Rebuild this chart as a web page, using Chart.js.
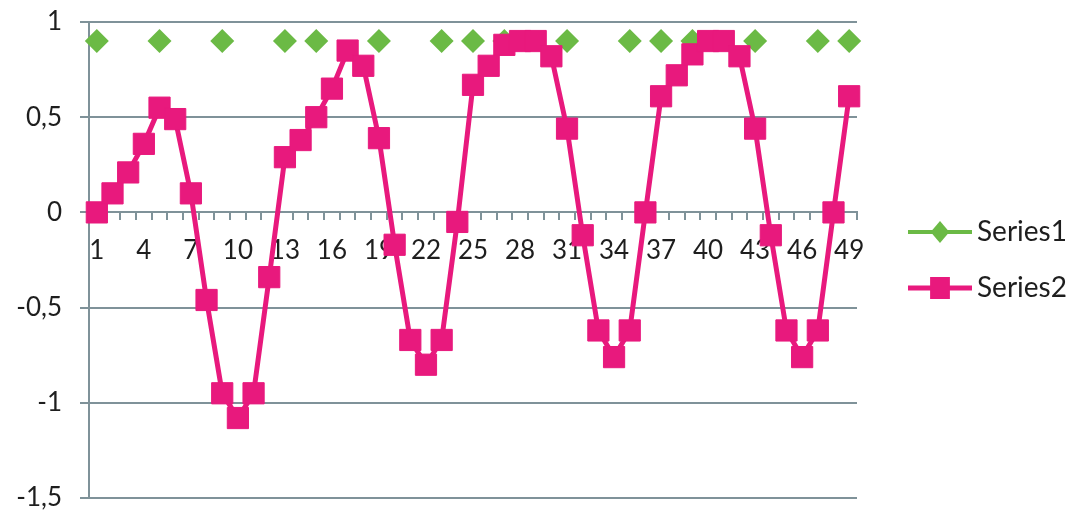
<!DOCTYPE html>
<html>
<head>
<meta charset="utf-8">
<script src="https://cdn.jsdelivr.net/npm/chart.js@4.4.1/dist/chart.umd.min.js"></script>
<style>
  html, body { margin: 0; padding: 0; background: #ffffff; }
  #wrap { width: 1073px; height: 517px; }
</style>
</head>
<body>
<div id="wrap"><canvas id="chart" width="1073" height="517"></canvas></div>
<script>
// Category axis: 1..49
const categories = [
  1, 2, 3, 4, 5, 6, 7, 8, 9, 10,
  11, 12, 13, 14, 15, 16, 17, 18, 19, 20,
  21, 22, 23, 24, 25, 26, 27, 28, 29, 30,
  31, 32, 33, 34, 35, 36, 37, 38, 39, 40,
  41, 42, 43, 44, 45, 46, 47, 48, 49
];

// Series1: flag markers (null where no marker)
const series1 = [
  0.9, null, null, null, 0.9, null, null, null, 0.9, null,
  null, null, 0.9, null, 0.9, null, null, null, 0.9, null,
  null, null, 0.9, null, 0.9, null, 0.9, null, null, null,
  0.9, null, null, null, 0.9, null, 0.9, null, 0.9, null,
  null, null, 0.9, null, null, null, 0.9, null, 0.9
];

// Series2: oscillating signal
const series2 = [
  0.00, 0.10, 0.21, 0.36, 0.55, 0.49, 0.10, -0.46, -0.95, -1.08,
  -0.95, -0.34, 0.29, 0.38, 0.50, 0.65, 0.85, 0.77, 0.39, -0.17,
  -0.67, -0.80, -0.67, -0.05, 0.67, 0.77, 0.88, 0.90, 0.90, 0.82,
  0.44, -0.12, -0.62, -0.76, -0.62, 0.00, 0.61, 0.72, 0.83, 0.90,
  0.90, 0.82, 0.44, -0.12, -0.62, -0.76, -0.62, 0.00, 0.61
];

// Value axis ticks
const yTicks = [-1.5, -1, -0.5, 0, 0.5, 1];

const GREEN = '#6BBA45';
const PINK = '#E8197D';
const AXIS = '#7F9299';
const TEXT = '#1E1E1E';
const FONT = 'Lato, "Open Sans", sans-serif';

function drawMarker(ctx, style, x, y, r, color) {
  ctx.fillStyle = color;
  ctx.beginPath();
  if (style === 'rectRot') {
    ctx.moveTo(x - r * 0.85, y);
    ctx.lineTo(x, y - r);
    ctx.lineTo(x + r * 0.85, y);
    ctx.lineTo(x, y + r);
    ctx.closePath();
  } else {
    ctx.rect(x - r * 0.9, y - r, r * 1.8, r * 2);
  }
  ctx.fill();
}

// Legend at the right: line sample with marker, then the series name
const sideLegend = {
  id: 'sideLegend',
  afterDraw(chart) {
    const ctx = chart.ctx;
    const area = chart.chartArea;
    const x0 = area.right + 51;
    const lineLen = 64;
    const midY = (area.top + area.bottom) / 2;
    const rowGap = 56;
    const sets = chart.data.datasets;
    ctx.save();
    sets.forEach((ds, i) => {
      const y = midY + (i - (sets.length - 1) / 2) * rowGap;
      ctx.strokeStyle = ds.borderColor;
      ctx.lineWidth = i === 0 ? 4 : 5;
      ctx.lineCap = 'butt';
      ctx.beginPath();
      ctx.moveTo(x0, y);
      ctx.lineTo(x0 + lineLen, y);
      ctx.stroke();
      drawMarker(ctx, ds.pointStyle, x0 + lineLen / 2, y, 11, ds.pointBackgroundColor);
      ctx.fillStyle = TEXT;
      ctx.font = '28px ' + FONT;
      ctx.textAlign = 'left';
      ctx.textBaseline = 'middle';
      ctx.fillText(ds.label, x0 + lineLen + 5, y);
    });
    ctx.restore();
  }
};

new Chart(document.getElementById('chart'), {
  type: 'line',
  data: {
    labels: categories,
    datasets: [
      {
        label: 'Series1',
        data: series1,
        showLine: false,
        borderColor: GREEN,
        backgroundColor: GREEN,
        pointStyle: 'rectRot',
        pointRadius: 12,
        pointBackgroundColor: GREEN,
        pointBorderColor: GREEN,
        pointBorderWidth: 0,
        order: 2
      },
      {
        label: 'Series2',
        data: series2,
        borderColor: PINK,
        backgroundColor: PINK,
        borderWidth: 5,
        tension: 0,
        pointStyle: 'rect',
        pointRadius: 15,
        pointBackgroundColor: PINK,
        pointBorderColor: PINK,
        pointBorderWidth: 1,
        order: 1
      }
    ]
  },
  options: {
    responsive: false,
    animation: false,
    devicePixelRatio: 1,
    layout: { padding: { left: 0, top: 22, right: 216, bottom: 19 } },
    plugins: {
      legend: { display: false },
      tooltip: { enabled: false }
    },
    scales: {
      x: {
        type: 'category',
        position: { y: 0 },
        offset: true,
        grid: {
          offset: true,
          drawOnChartArea: false,
          drawTicks: true,
          tickLength: 7,
          color: AXIS,
          lineWidth: 2
        },
        border: { color: AXIS, width: 2 },
        ticks: {
          autoSkip: false,
          maxRotation: 0,
          minRotation: 0,
          padding: 16,
          color: TEXT,
          font: { family: FONT, size: 26 },
          callback: (v, i) => (i % 3 === 0 ? String(categories[i]) : '')
        }
      },
      y: {
        min: -1.5,
        max: 1,
        afterBuildTicks: (s) => { s.ticks = yTicks.map(v => ({ value: v })); },
        afterFit: (s) => { s.width = 89; s.paddingTop = 0; s.paddingBottom = 0; },
        grid: {
          color: AXIS,
          lineWidth: 2,
          drawTicks: true,
          tickLength: 9
        },
        border: { color: AXIS, width: 2 },
        ticks: {
          padding: 18,
          color: TEXT,
          font: { family: FONT, size: 26 },
          callback: (v) => String(v).replace('.', ',')
        }
      }
    }
  },
  plugins: [sideLegend]
});
</script>
</body>
</html>
